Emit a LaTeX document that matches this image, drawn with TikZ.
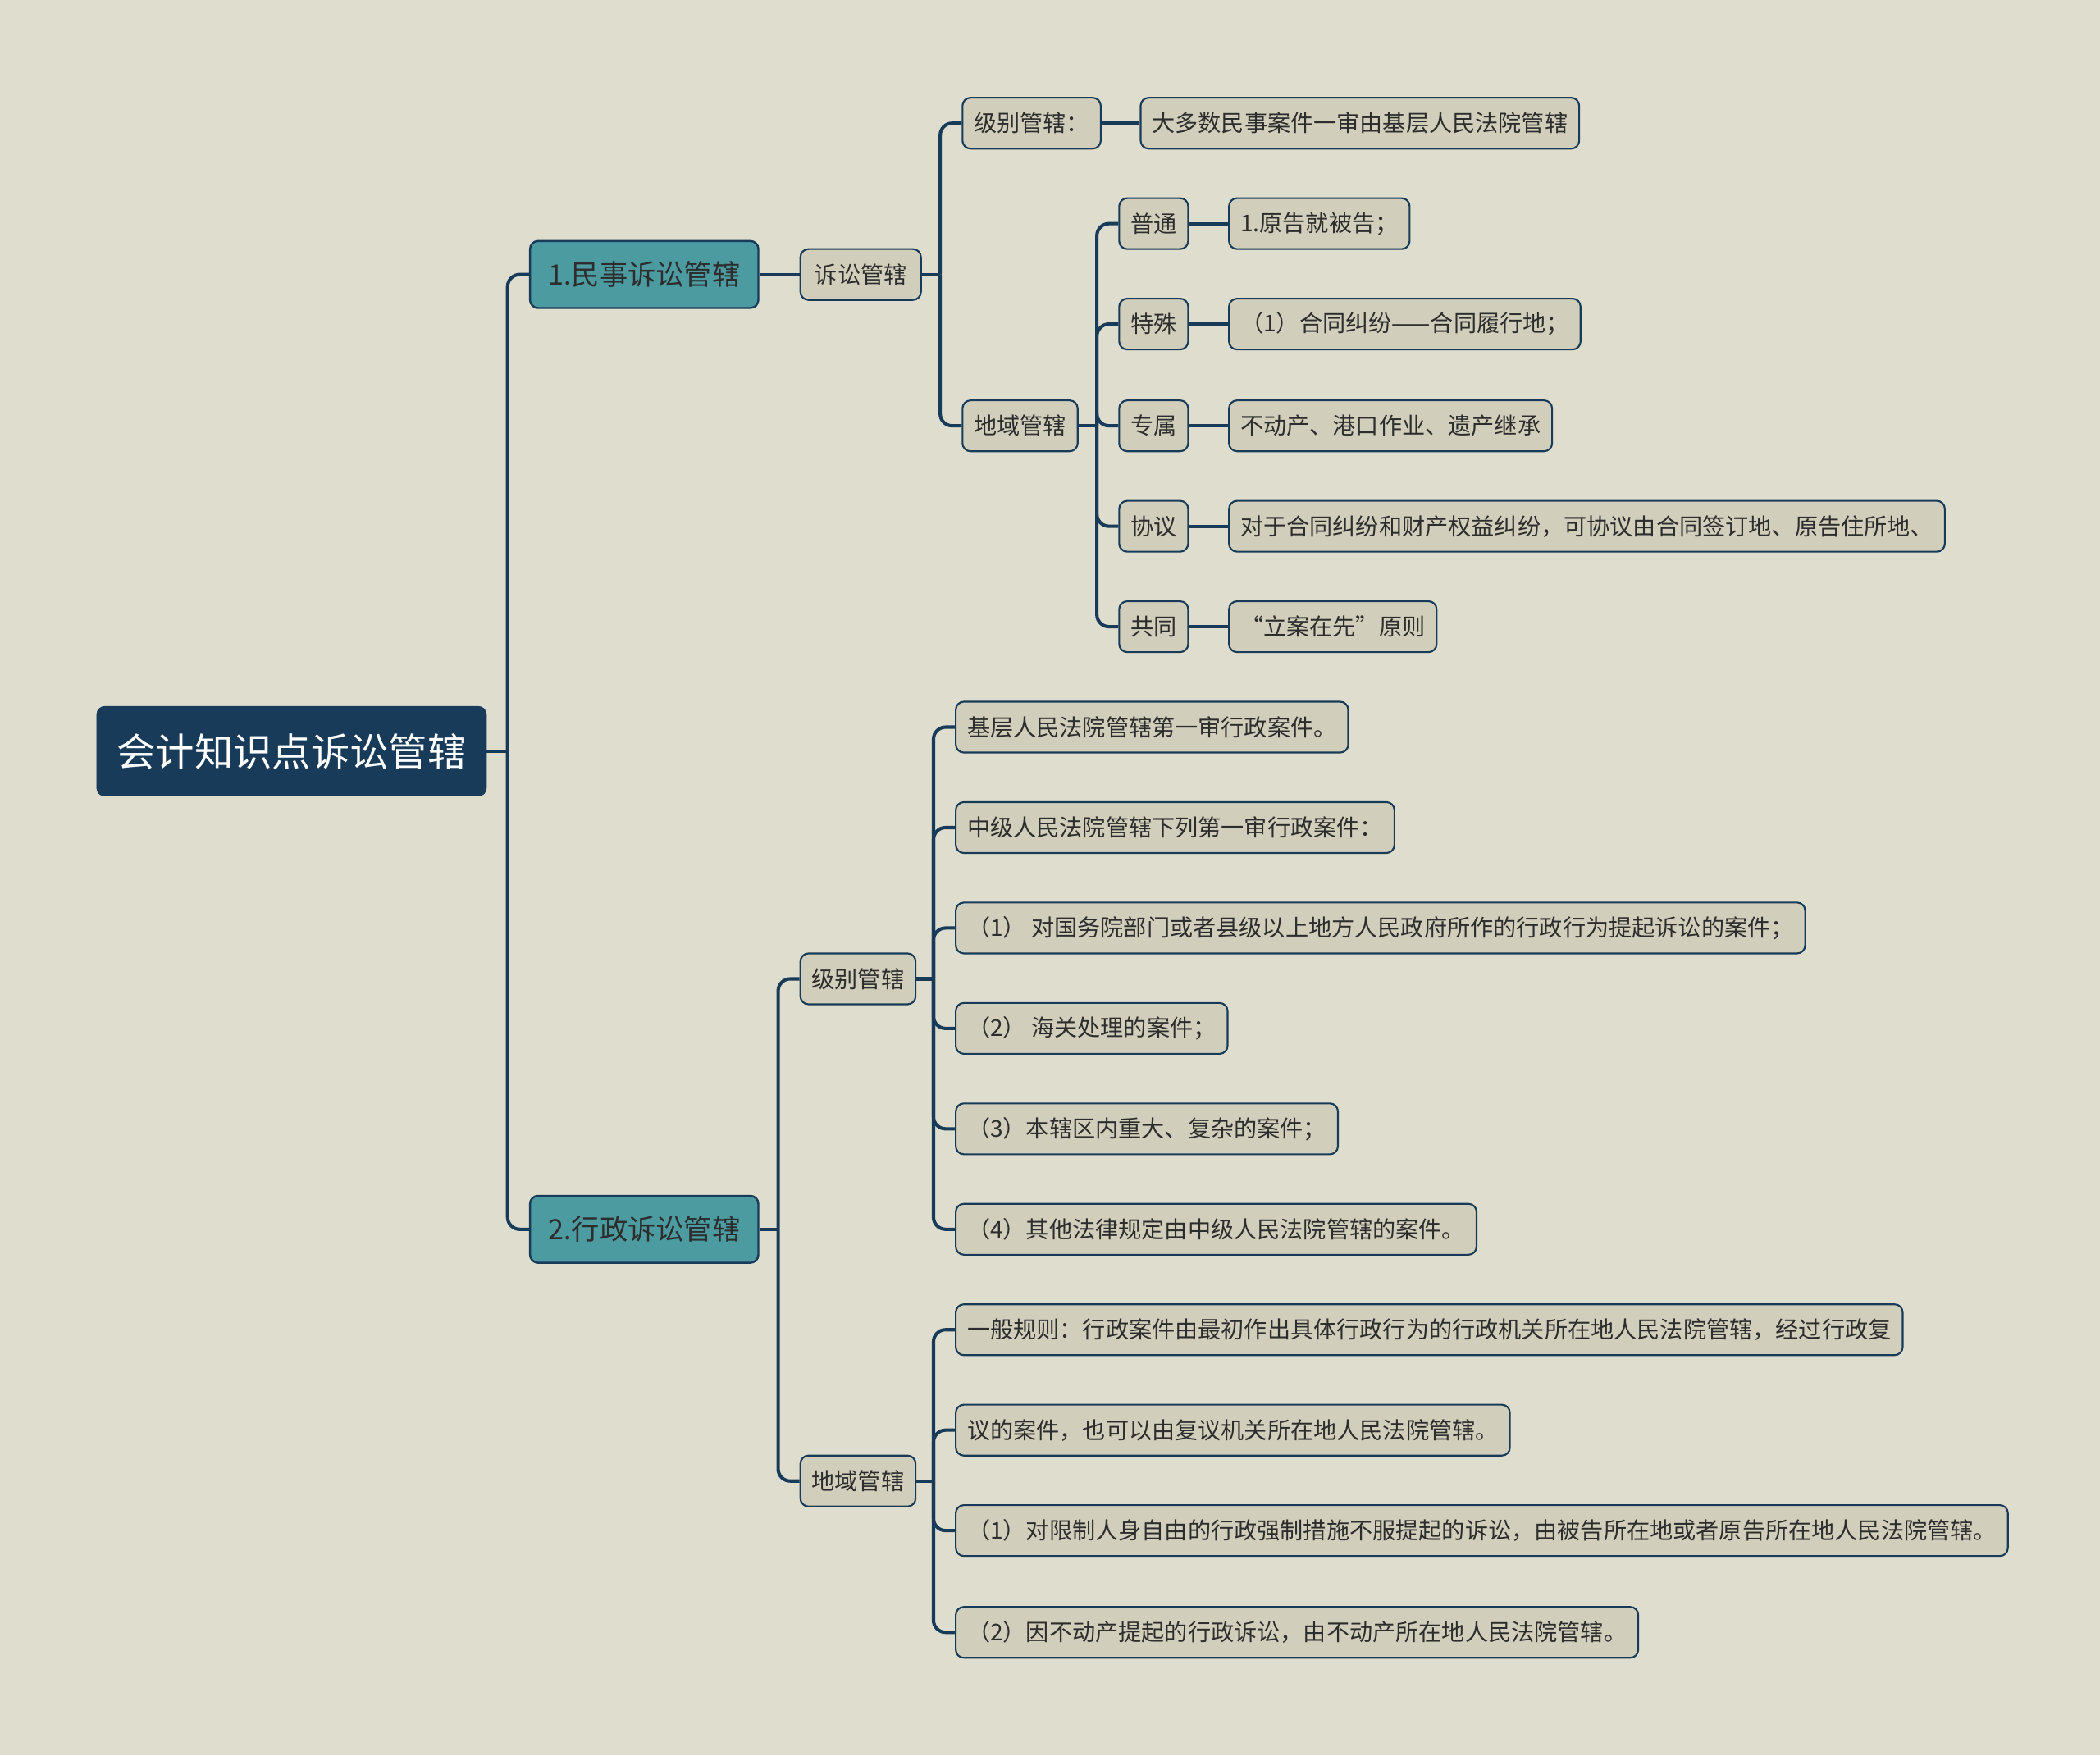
\documentclass[tikz,border=0pt]{standalone}
\usepackage{fontspec}
\setmainfont{Noto Sans CJK SC}
\usetikzlibrary{positioning, calc}
\definecolor{mybg}{RGB}{222,221,206}
\definecolor{mynavy}{RGB}{24,59,89}
\definecolor{myteal}{RGB}{76,155,160}
\definecolor{leaffill}{RGB}{209,207,187}
\definecolor{mytext}{RGB}{45,45,45}
\tikzset{
  rootbox/.style={rectangle, fill=mynavy, draw=mynavy, text=white,
    font=\fontsize{29}{34}\selectfont, rounded corners=6pt,
    minimum height=67pt, inner xsep=15pt, anchor=west},
  mainbox/.style={rectangle, fill=myteal, draw=mynavy, line width=1.5pt,
    text=mytext, font=\fontsize{21}{25}\selectfont, rounded corners=6pt,
    minimum height=50pt, inner xsep=13.5pt, anchor=west},
  subbox/.style={rectangle, fill=leaffill, draw=mynavy, line width=1.3pt,
    text=mytext, font=\fontsize{17.25}{20}\selectfont, rounded corners=6pt,
    minimum height=38pt, inner xsep=8.5pt, anchor=west},
  link/.style={draw=mynavy, line width=2.5pt, rounded corners=9pt}
}

\begin{document}
\begin{tikzpicture}[x=1pt, y=-1pt]
    \fill[mybg] (0,0) rectangle (1568,1311);
    % root and two main branches
    \node[rootbox] (root) at (72,561) {会计知识点诉讼管辖};
    \node[mainbox] (civil) at (395,205) {1.民事诉讼管辖};
    \node[mainbox] (admin) at (395,918) {2.行政诉讼管辖};
    \coordinate (t0) at (379,561);
    \draw[link] (root.east) -- (t0);
    \draw[link] (t0) |- (civil.west);
    \draw[link] (t0) |- (admin.west);
    % civil
    \node[subbox, inner xsep=10.5pt] (susong) at (597,205) {诉讼管辖};
    \draw[link] (civil.east) -- (susong.west);
    \node[subbox] (cjibie) at (718,92) {级别管辖：};
    \node[subbox] (cdiyu) at (718,318) {地域管辖};
    \node[subbox] (cjibiel) at (851,92) {大多数民事案件一审由基层人民法院管辖};
    \coordinate (t1) at (702,205);
    \draw[link] (susong.east) -- (t1);
    \draw[link] (t1) |- (cjibie.west);
    \draw[link] (t1) |- (cdiyu.west);
    \draw[link] (cjibie.east) -- (cjibiel.west);
    \coordinate (t2) at (819,318);
    \draw[link] (cdiyu.east) -- (t2);
    \foreach \nm/\yy/\lab/\txt in {putong/167/普通/{1.原告就被告；},
        teshu/242/特殊/{（1）合同纠纷——合同履行地；},
        zhuanshu/318/专属/{不动产、港口作业、遗产继承},
        xieyi/393/协议/{对于合同纠纷和财产权益纠纷，可协议由合同签订地、原告住所地、},
        gongtong/468/共同/{“立案在先”原则}} {
      \node[subbox] (\nm) at (835,\yy) {\lab};
      \node[subbox] (\nm l) at (917,\yy) {\txt};
      \draw[link] (t2) |- (\nm.west);
      \draw[link] (\nm.east) -- (\nm l.west);
    }
    % administrative
    \node[subbox] (ajibie) at (597,731) {级别管辖};
    \node[subbox] (adiyu) at (597,1106) {地域管辖};
    \coordinate (t3) at (581,918);
    \draw[link] (admin.east) -- (t3);
    \draw[link] (t3) |- (ajibie.west);
    \draw[link] (t3) |- (adiyu.west);
    \coordinate (t4) at (697,731);
    \draw[link] (ajibie.east) -- (t4);
    \foreach \nm/\yy/\txt in {aj1/543/{基层人民法院管辖第一审行政案件。},
        aj2/618/{中级人民法院管辖下列第一审行政案件：},
        aj3/693/{（1） 对国务院部门或者县级以上地方人民政府所作的行政行为提起诉讼的案件；},
        aj4/768/{（2） 海关处理的案件；},
        aj5/843/{（3）本辖区内重大、复杂的案件；},
        aj6/918/{（4）其他法律规定由中级人民法院管辖的案件。}} {
      \node[subbox] (\nm) at (713,\yy) {\txt};
      \draw[link] (t4) |- (\nm.west);
    }
    \coordinate (t5) at (697,1106);
    \draw[link] (adiyu.east) -- (t5);
    \foreach \nm/\yy/\txt in {ad1/993/{一般规则：行政案件由最初作出具体行政行为的行政机关所在地人民法院管辖，经过行政复},
        ad2/1068/{议的案件，也可以由复议机关所在地人民法院管辖。},
        ad3/1143/{（1）对限制人身自由的行政强制措施不服提起的诉讼，由被告所在地或者原告所在地人民法院管辖。},
        ad4/1219/{（2）因不动产提起的行政诉讼，由不动产所在地人民法院管辖。}} {
      \node[subbox] (\nm) at (713,\yy) {\txt};
      \draw[link] (t5) |- (\nm.west);
    }
\end{tikzpicture}
\end{document}
